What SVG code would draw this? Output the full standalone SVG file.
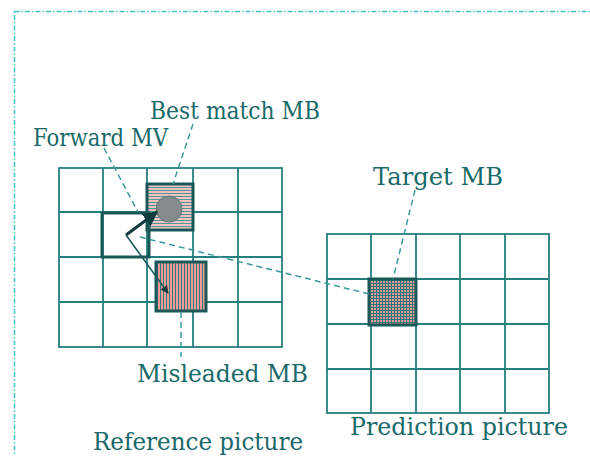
<svg xmlns="http://www.w3.org/2000/svg" width="590" height="456" viewBox="0 0 590 456">
<style>
.t{font-family:"DejaVu Serif","Liberation Serif","Noto Serif",serif;font-size:24px;fill:#1a6a6a}
.g{fill:none;stroke:#267f7f;stroke-width:1.8}
.d{fill:none;stroke:#3a9a9a;stroke-width:1.5;stroke-dasharray:6 4}
</style>
<defs>
<pattern id="hh" width="4" height="3" patternUnits="userSpaceOnUse">
<rect width="4" height="3" fill="#f4c0c0"/>
<rect y="1" width="4" height="1" fill="#4a9a9a"/>
</pattern>
<pattern id="vh" width="3" height="4" patternUnits="userSpaceOnUse">
<rect width="3" height="4" fill="#f09a9a"/>
<rect x="1" width="1" height="4" fill="#2a7e7e"/>
</pattern>
<pattern id="xh" width="3" height="3" patternUnits="userSpaceOnUse">
<rect width="3" height="3" fill="#ee9a9a"/>
<rect x="1" width="1" height="3" fill="#2a7878"/>
<rect y="1" width="3" height="1" fill="#2a7878"/>
</pattern>
<marker id="ah" viewBox="0 0 10 10" refX="9" refY="5" markerWidth="5" markerHeight="5" orient="auto">
<path d="M0,0 L10,5 L0,10 Z" fill="#103c3c"/>
</marker>
</defs>
<rect width="590" height="456" fill="#ffffff"/>
<rect x="14.5" y="11.5" width="600" height="470" fill="none" stroke="#45c6c6" stroke-width="1.5" stroke-dasharray="5 2 1.5 2"/>

<g id="reference-picture">
<rect x="59" y="168" width="223" height="179" class="g"/>
<path class="g" d="M103,168V347M147,168V347M193,168V347M238,168V347M59,212H282M59,257H282M59,302H282"/>
<text class="t" x="93" y="450" textLength="210" lengthAdjust="spacingAndGlyphs">Reference picture</text>
</g>

<g id="prediction-picture">
<rect x="327" y="234" width="222" height="179" class="g"/>
<path class="g" d="M371,234V413M416,234V413M460,234V413M505,234V413M327,279H549M327,324H549M327,369H549"/>
<text class="t" x="350" y="435" textLength="218" lengthAdjust="spacingAndGlyphs">Prediction picture</text>
</g>

<g id="best-match-mb">
<rect x="147" y="184" width="46" height="46" fill="url(#hh)" stroke="#1a5858" stroke-width="3"/>
<circle cx="169" cy="209" r="13" fill="#858a8a" stroke="#5a7a7a" stroke-width="1"/>
<text class="t" x="150" y="119" textLength="170" lengthAdjust="spacingAndGlyphs">Best match MB</text>
</g>

<g id="forward-mv-block">
<rect x="102" y="213" width="47" height="44" fill="none" stroke="#1a5858" stroke-width="3"/>
<text class="t" x="33" y="146" textLength="135" lengthAdjust="spacingAndGlyphs">Forward MV</text>
</g>

<g id="misleaded-mb">
<rect x="156" y="262" width="50" height="49" fill="url(#vh)" stroke="#1a5858" stroke-width="3"/>
<text class="t" x="137" y="382" textLength="171" lengthAdjust="spacingAndGlyphs">Misleaded MB</text>
</g>

<g id="target-mb">
<rect x="369" y="279" width="47" height="46" fill="url(#xh)" stroke="#1a5858" stroke-width="3"/>
<text class="t" x="373" y="185" textLength="130" lengthAdjust="spacingAndGlyphs">Target MB</text>
</g>

<g id="connectors">
<line x1="126" y1="235" x2="157" y2="212" stroke="#103c3c" stroke-width="3" marker-end="url(#ah)"/>
<line x1="126" y1="235" x2="168" y2="293" stroke="#1a5c5c" stroke-width="1.6" marker-end="url(#ah)"/>
<line class="d" x1="140" y1="237" x2="369" y2="294"/>
<line class="d" x1="104" y1="148" x2="138" y2="212"/>
<line class="d" x1="193" y1="124" x2="173" y2="184"/>
<line class="d" x1="415" y1="190" x2="393" y2="279"/>
<line class="d" x1="181" y1="312" x2="181" y2="357"/>
</g>
</svg>
